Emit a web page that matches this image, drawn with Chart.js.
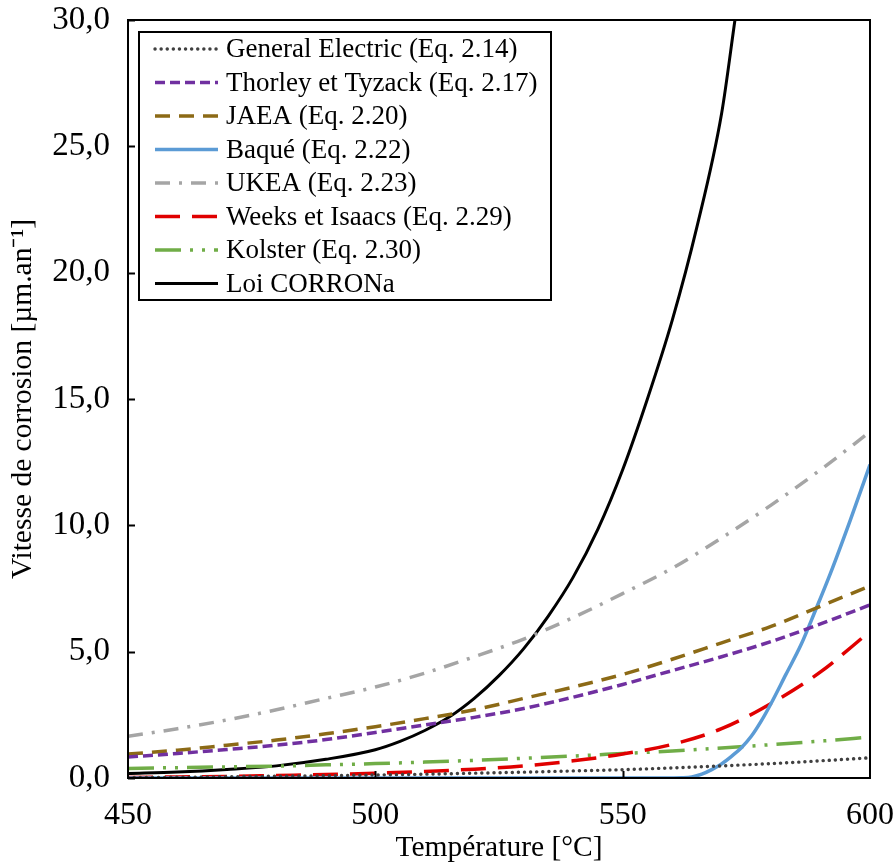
<!DOCTYPE html>
<html>
<head>
<meta charset="utf-8">
<script src="https://cdn.jsdelivr.net/npm/chart.js@4"></script>
<style>
  html, body { margin: 0; padding: 0; background: #fff; }
  #contenitore { width: 896px; height: 866px; }
</style>
</head>
<body>
<div id="contenitore"><canvas id="graficoCorrosione"></canvas></div>
<script>
// temperature comuni (°C)
const temperature = [450, 460, 470, 480, 490, 500, 510, 520, 530, 540, 550, 560, 570, 580, 590, 600];

const generalElectric = [0.02, 0.03, 0.05, 0.07, 0.09, 0.12, 0.15, 0.19, 0.23, 0.28, 0.33, 0.40, 0.48, 0.57, 0.68, 0.80];
const thorleyTyzack   = [0.83, 0.97, 1.13, 1.30, 1.52, 1.80, 2.10, 2.40, 2.75, 3.20, 3.70, 4.25, 4.80, 5.40, 6.10, 6.85];
const jaea            = [0.95, 1.10, 1.30, 1.50, 1.75, 2.03, 2.35, 2.70, 3.15, 3.60, 4.10, 4.70, 5.35, 6.00, 6.80, 7.60];
const ukea            = [1.65, 1.95, 2.30, 2.70, 3.15, 3.60, 4.15, 4.80, 5.50, 6.35, 7.30, 8.30, 9.50, 10.80, 12.20, 13.70];
const weeksIsaacs     = [0.02, 0.04, 0.06, 0.10, 0.14, 0.19, 0.26, 0.35, 0.48, 0.68, 0.95, 1.33, 1.95, 2.95, 4.20, 5.80];
const kolster         = [0.38, 0.41, 0.44, 0.47, 0.52, 0.57, 0.63, 0.70, 0.78, 0.87, 0.97, 1.07, 1.19, 1.32, 1.46, 1.62];

// Baqué: nulla fino a ~560 °C
const tempBaque = [450, 500, 550, 558, 562, 564, 566, 568, 570, 572, 574, 576, 578, 580, 583, 586, 589, 592, 596, 600];
const baque     = [0, 0, 0, 0, 0.01, 0.04, 0.15, 0.33, 0.56, 0.86, 1.20, 1.65, 2.25, 2.95, 4.10, 5.25, 6.65, 8.10, 10.20, 12.40];

// Loi CORRONa
const tempCorrona = [450, 460, 470, 480, 490, 500, 505, 510, 515, 520, 525, 530, 535, 540, 545, 550, 555, 560, 565, 570, 572.7];
const corrona     = [0.18, 0.24, 0.34, 0.48, 0.74, 1.12, 1.45, 1.88, 2.42, 3.15, 4.05, 5.12, 6.42, 7.95, 9.85, 12.20, 15.00, 18.10, 21.80, 26.30, 30.00];

const yTicks = [0, 5, 10, 15, 20, 25, 30];

function punti(xs, ys) {
    return xs.map((x, i) => ({ x: x, y: ys[i] }));
}

const FONT = "'Liberation Serif', 'Times New Roman', serif";

function serie(nome, xs, ys, colore, tratteggio, spessore, cap) {
    return {
        label: nome,
        data: punti(xs, ys),
        borderColor: colore,
        backgroundColor: colore,
        borderWidth: spessore,
        borderDash: tratteggio,
        borderCapStyle: cap || 'butt',
        pointRadius: 0,
        cubicInterpolationMode: 'monotone',
        fill: false
    };
}

// cornice, tacche interne e legenda dentro l'area del grafico
const cornice = {
    id: 'cornice',
    afterDraw(chart) {
        const ctx = chart.ctx;
        const a = chart.chartArea;
        const xs = chart.scales.x, ys = chart.scales.y;
        ctx.save();
        ctx.strokeStyle = '#000';
        ctx.lineWidth = 2;
        ctx.strokeRect(a.left, a.top, a.right - a.left, a.bottom - a.top);
        ctx.beginPath();
        yTicks.forEach(v => {
            const py = Math.round(ys.getPixelForValue(v)) + 0.5;
            ctx.moveTo(a.left, py);
            ctx.lineTo(a.left + 7, py);
        });
        [500, 550].forEach(v => {
            const px = Math.round(xs.getPixelForValue(v)) + 0.5;
            ctx.moveTo(px, a.bottom);
            ctx.lineTo(px, a.bottom - 7);
        });
        ctx.stroke();

        // legenda
        const lx = a.left + 11, ly = a.top + 12, lw = 412, lh = 268;
        ctx.fillStyle = '#fff';
        ctx.fillRect(lx, ly, lw, lh);
        ctx.strokeRect(lx, ly, lw, lh);
        ctx.font = '27px ' + FONT;
        ctx.textBaseline = 'middle';
        chart.data.datasets.forEach((ds, i) => {
            const cy = ly + 17 + i * 33.5;
            ctx.save();
            ctx.strokeStyle = ds.borderColor;
            ctx.lineWidth = ds.borderWidth;
            ctx.lineCap = ds.borderCapStyle;
            ctx.setLineDash(ds.borderDash || []);
            ctx.beginPath();
            ctx.moveTo(lx + 16, cy);
            ctx.lineTo(lx + 79, cy);
            ctx.stroke();
            ctx.restore();
            ctx.fillStyle = '#000';
            ctx.fillText(ds.label, lx + 87, cy + 1);
        });
        ctx.restore();
    }
};

const ctx = document.getElementById('graficoCorrosione').getContext('2d');

new Chart(ctx, {
    type: 'line',
    data: {
        datasets: [
            serie('General Electric (Eq. 2.14)', temperature, generalElectric, '#404040', [0.1, 6], 3.4, 'round'),
            serie('Thorley et Tyzack (Eq. 2.17)', temperature, thorleyTyzack, '#7030A0', [10, 5], 3.5),
            serie('JAEA (Eq. 2.20)', temperature, jaea, '#8C6A16', [15, 9], 3.5),
            serie('Baqué (Eq. 2.22)', tempBaque, baque, '#5B9BD5', [], 3.5),
            serie('UKEA (Eq. 2.23)', temperature, ukea, '#A5A5A5', [15, 9, 3, 9], 3.5),
            serie('Weeks et Isaacs (Eq. 2.29)', temperature, weeksIsaacs, '#E00000', [25, 12], 3.5),
            serie('Kolster (Eq. 2.30)', temperature, kolster, '#70AD47', [26, 9, 3, 9, 3, 9], 3.5),
            serie('Loi CORRONa', tempCorrona, corrona, '#000000', [], 3)
        ]
    },
    options: {
        responsive: true,
        maintainAspectRatio: false,
        animation: false,
        layout: {
            padding: { top: 20, right: 26, left: 0, bottom: 0 }
        },
        plugins: {
            legend: { display: false },
            tooltip: { enabled: false }
        },
        scales: {
            x: {
                type: 'linear',
                min: 450,
                max: 600,
                grid: { display: false },
                border: { display: false },
                ticks: {
                    stepSize: 50,
                    color: '#000',
                    padding: 10,
                    maxRotation: 0,
                    font: { family: FONT, size: 32 }
                },
                title: {
                    display: true,
                    text: 'Température [°C]',
                    color: '#000',
                    padding: { top: 0, bottom: 0 },
                    font: { family: FONT, size: 29.5 }
                },
                afterFit(scale) {
                    scale.height = 88;
                    scale.paddingLeft = 0;
                    scale.paddingRight = 0;
                }
            },
            y: {
                min: 0,
                max: 30,
                grid: { display: false },
                border: { display: false },
                ticks: {
                    stepSize: 5,
                    color: '#000',
                    padding: 10,
                    font: { family: FONT, size: 33 },
                    callback: v => v.toFixed(1).replace('.', ',')
                },
                title: {
                    display: true,
                    text: 'Vitesse de corrosion [µm.an⁻¹]',
                    color: '#000',
                    padding: { top: 6, bottom: 0 },
                    font: { family: FONT, size: 29.5 }
                },
                afterFit(scale) {
                    scale.width = 128;
                    scale.paddingTop = 0;
                    scale.paddingBottom = 0;
                }
            }
        }
    },
    plugins: [cornice]
});
</script>
</body>
</html>
